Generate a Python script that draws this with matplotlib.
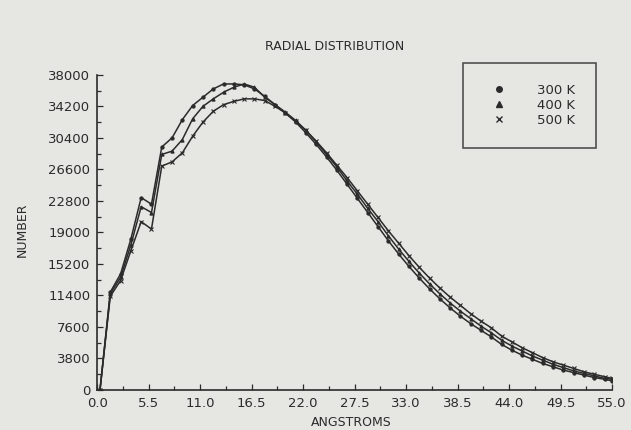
import numpy as np
import matplotlib.pyplot as plt
from matplotlib.lines import Line2D
from matplotlib.ticker import MultipleLocator

# Distancias (angstroms) de cada punto de la distribución
angstroms = [0.3, 1.4, 2.5, 3.6, 4.7, 5.8, 6.9, 8.0, 9.1, 10.2,
             11.3, 12.4, 13.5, 14.6, 15.7, 16.8, 17.9, 19.0, 20.1, 21.2,
             22.3, 23.4, 24.5, 25.6, 26.7, 27.8, 28.9, 30.0, 31.1, 32.2,
             33.3, 34.4, 35.5, 36.6, 37.7, 38.8, 39.9, 41.0, 42.1, 43.2,
             44.3, 45.4, 46.5, 47.6, 48.7, 49.8, 50.9, 52.0, 53.1, 54.2, 55.0]

n_300k = [0, 11800, 14000, 18200, 23200, 22400, 29300, 30400, 32600, 34300,
          35300, 36300, 36900, 36900, 36800, 36300, 35400, 34400, 33400, 32300,
          31000, 29600, 28100, 26500, 24800, 23100, 21400, 19700, 18000, 16400,
          14900, 13500, 12200, 11000, 9900, 8900, 8000, 7200, 6400, 5500,
          4800, 4200, 3700, 3200, 2800, 2400, 2100, 1800, 1500, 1300, 1100]

n_400k = [0, 11600, 13600, 17500, 22100, 21400, 28400, 28800, 30200, 32700,
          34200, 35100, 35900, 36500, 36900, 36500, 35300, 34400, 33500, 32500,
          31300, 29900, 28400, 26900, 25200, 23600, 21900, 20300, 18600, 17000,
          15500, 14100, 12800, 11600, 10500, 9500, 8600, 7700, 6900, 6000,
          5300, 4700, 4100, 3600, 3100, 2700, 2300, 2000, 1700, 1400, 1300]

n_500k = [0, 11300, 13200, 16800, 20300, 19400, 27000, 27500, 28600, 30600,
          32300, 33600, 34400, 34800, 35100, 35100, 34900, 34200, 33400, 32400,
          31300, 30000, 28600, 27100, 25600, 24000, 22400, 20800, 19200, 17700,
          16200, 14800, 13500, 12300, 11200, 10200, 9200, 8300, 7500, 6500,
          5800, 5100, 4500, 3900, 3400, 3000, 2600, 2200, 1900, 1600, 1400]

etiquetas = ['300 K', '400 K', '500 K']
marcadores = ['o', '^', 'x']

fondo = '#e6e6e3'
tinta = '#2b2b2b'

fig = plt.figure(figsize=(6.31, 4.30), dpi=100, facecolor=fondo)
ax = fig.add_axes([0.154, 0.093, 0.816, 0.733], facecolor=fondo)

for serie, m in zip([n_300k, n_400k, n_500k], marcadores):
    ax.plot(angstroms, serie, color=tinta, lw=1.1, marker=m, ms=2.3,
            mew=0.8, mfc=tinta, mec=tinta)

ax.set_xlim(0, 55)
ax.set_ylim(0, 38000)
ax.set_xticks([0.0, 5.5, 11.0, 16.5, 22.0, 27.5, 33.0, 38.5, 44.0, 49.5, 55.0])
ax.set_xticklabels(['0.0', '5.5', '11.0', '16.5', '22.0', '27.5', '33.0',
                    '38.5', '44.0', '49.5', '55.0'])
ax.set_yticks([0, 3800, 7600, 11400, 15200, 19000, 22800, 26600, 30400, 34200, 38000])
ax.xaxis.set_minor_locator(MultipleLocator(2.75))
ax.yaxis.set_minor_locator(MultipleLocator(1900))
ax.tick_params(which='both', direction='in', colors=tinta, labelsize=9.5,
               labelcolor=tinta)
ax.tick_params(which='major', length=4, width=0.9)
ax.tick_params(which='minor', length=3, width=0.9)
ax.tick_params(axis='x', pad=5)
ax.tick_params(axis='y', pad=5)

for lado in ['top', 'right']:
    ax.spines[lado].set_visible(False)
for lado in ['left', 'bottom']:
    ax.spines[lado].set_color(tinta)
    ax.spines[lado].set_linewidth(1.2)

fig.text(0.531, 0.893, 'RADIAL DISTRIBUTION', ha='center', va='center',
         fontsize=9, color=tinta)
fig.text(0.557, 0.018, 'ANGSTROMS', ha='center', va='center',
         fontsize=9, color=tinta)
fig.text(0.035, 0.465, 'NUMBER', ha='center', va='center', rotation=90,
         fontsize=9, color=tinta)

manejadores = [Line2D([], [], ls='none', marker=m, ms=4, mew=1.0,
                      color=tinta, mfc=tinta, mec=tinta) for m in marcadores]
leg = ax.legend(manejadores, etiquetas, loc='upper right',
                bbox_to_anchor=(596 / 631, 1 - 63 / 430),
                bbox_transform=fig.transFigure, frameon=True, fancybox=False,
                borderpad=1.6, handletextpad=1.7, labelspacing=0.15,
                handlelength=2.3, borderaxespad=0, fontsize=9.5,
                labelcolor=tinta)
leg.get_frame().set_edgecolor(tinta)
leg.get_frame().set_facecolor(fondo)
leg.get_frame().set_linewidth(1.2)

fig.savefig('out.png', dpi=100, facecolor=fondo)
